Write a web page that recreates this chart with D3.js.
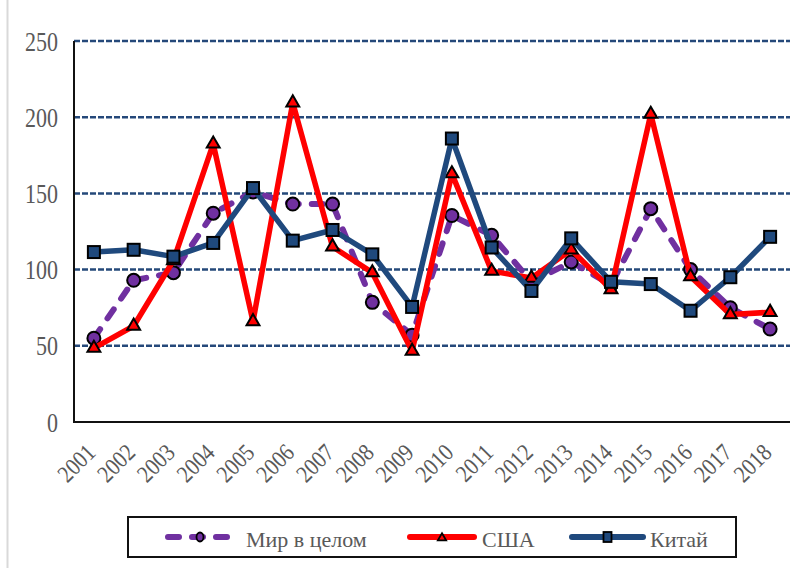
<!DOCTYPE html>
<html>
<head>
<meta charset="utf-8">
<script src="https://cdn.jsdelivr.net/npm/d3@7"></script>
<style>
  html,body{margin:0;padding:0;background:#fff;}
  svg{display:block;}
</style>
</head>
<body>
<div id="chart"></div>
<script>
const years = ["2001","2002","2003","2004","2005","2006","2007","2008","2009",
  "2010","2011","2012","2013","2014","2015","2016","2017","2018"];
const world = [55,93,98,137,151,143,143,78.5,57,135.5,122.5,92,105,90,140,100,75,61];
const usa   = [48.5,63,106,182.5,66,209.5,115,98,46.5,163,99,94.5,113,87,202,95.5,70.5,72];
const china = [111.5,113,108.5,117.5,153.5,119,126,110,75.5,186,114.5,86,120.5,92,90.5,73,95,121.5];
const yTicks = [0,50,100,150,200,250];
const seriesNames = ["Мир в целом","США","Китай"];

const FONT = "'Liberation Serif','DejaVu Serif','Times New Roman',serif";
const W = 810, H = 568;
const svg = d3.select("#chart").append("svg")
  .attr("width",W).attr("height",H);

svg.append("rect").attr("width",W).attr("height",H).attr("fill","#fff");
// chart area border, only left side visible
svg.append("line").attr("x1",7.5).attr("x2",7.5).attr("y1",0).attr("y2",H)
  .attr("stroke","#d9d9d9").attr("stroke-width",2);

const x = d3.scaleBand().domain(years).range([74,790]);
const y = d3.scaleLinear().domain([0,250]).range([422,41]);
const cx = d => x(d) + x.bandwidth()/2;

// gridlines
svg.append("g").selectAll("line")
  .data(yTicks.filter(t=>t>0))
  .enter().append("line")
  .attr("x1",74).attr("x2",790)
  .attr("y1",d=>y(d)).attr("y2",d=>y(d))
  .attr("stroke","#25497a").attr("stroke-width",2.5)
  .attr("stroke-dasharray","6,2");

// axes
svg.append("line").attr("x1",74).attr("x2",74).attr("y1",41).attr("y2",423)
  .attr("stroke","#111").attr("stroke-width",2);
svg.append("line").attr("x1",73).attr("x2",790).attr("y1",422).attr("y2",422)
  .attr("stroke","#111").attr("stroke-width",2);

svg.append("g").selectAll("text")
  .data(yTicks)
  .enter().append("text")
  .attr("font-family",FONT).attr("fill","#595959")
  .attr("text-anchor","end")
  .attr("dy","0.36em")
  .attr("font-size",22)
  .attr("transform",d=>"translate(58,"+y(d)+") scale(1,1.2)")
  .text(d=>d);

svg.append("g").selectAll("text")
  .data(years)
  .enter().append("text")
  .attr("font-family",FONT).attr("fill","#595959")
  .attr("text-anchor","end")
  .attr("font-size",21)
  .attr("transform",d=>"translate("+(cx(d)+3)+",454) rotate(-45) scale(1,1.15)")
  .text(d=>d);

const line = d3.line().x((d,i)=>cx(years[i])).y(d=>y(d));

// Мир в целом
svg.append("path").datum(world)
  .attr("d",line).attr("fill","none")
  .attr("stroke","#7030a0").attr("stroke-width",6)
  .attr("stroke-linecap","round").attr("stroke-linejoin","round")
  .attr("stroke-dasharray","11,13");
svg.append("g").selectAll("circle")
  .data(world).enter().append("circle")
  .attr("cx",(d,i)=>cx(years[i])).attr("cy",d=>y(d))
  .attr("r",6.5).attr("fill","#7030a0")
  .attr("stroke","#000").attr("stroke-width",2);

// США
svg.append("path").datum(usa)
  .attr("d",line).attr("fill","none")
  .attr("stroke","#ff0000").attr("stroke-width",5.5)
  .attr("stroke-linejoin","round");
const tri = d3.symbol(d3.symbolTriangle,72);
svg.append("g").selectAll("path")
  .data(usa).enter().append("path")
  .attr("d",tri)
  .attr("transform",(d,i)=>"translate("+cx(years[i])+","+y(d)+")")
  .attr("fill","#ff0000").attr("stroke","#000").attr("stroke-width",2);

// Китай
svg.append("path").datum(china)
  .attr("d",line).attr("fill","none")
  .attr("stroke","#1f497d").attr("stroke-width",5.5)
  .attr("stroke-linejoin","round");
svg.append("g").selectAll("rect")
  .data(china).enter().append("rect")
  .attr("x",(d,i)=>cx(years[i])-6).attr("y",d=>y(d)-6)
  .attr("width",12).attr("height",12)
  .attr("fill","#1f497d").attr("stroke","#000").attr("stroke-width",2);

// legend
const lg = svg.append("g");
lg.append("rect").attr("x",128).attr("y",517).attr("width",608).attr("height",40)
  .attr("fill","#fff").attr("stroke","#111").attr("stroke-width",2);
const ly = 537;
const items = [
  {x1:168,x2:232,tx:246,color:"#7030a0",mark:"circle",dash:"11,13"},
  {x1:410,x2:474,tx:482,color:"#ff0000",mark:"tri",dash:null},
  {x1:572,x2:643,tx:650,color:"#1f497d",mark:"square",dash:null}
];
items.forEach((it,k)=>{
  lg.append("line").attr("x1",it.x1).attr("x2",it.x2).attr("y1",ly).attr("y2",ly)
    .attr("stroke",it.color).attr("stroke-width",6)
    .attr("stroke-linecap","round")
    .attr("stroke-dasharray",it.dash);
  const mx = (it.x1+it.x2)/2;
  if(it.mark==="circle"){
    lg.append("ellipse").attr("cx",mx).attr("cy",ly).attr("rx",3.5).attr("ry",4.5)
      .attr("fill",it.color).attr("stroke","#000").attr("stroke-width",1.8);
  } else if(it.mark==="tri"){
    lg.append("path").attr("d",d3.symbol(d3.symbolTriangle,30))
      .attr("transform","translate("+mx+","+(ly+1)+")")
      .attr("fill",it.color).attr("stroke","#000").attr("stroke-width",1.8);
  } else {
    lg.append("rect").attr("x",mx-4).attr("y",ly-5).attr("width",8).attr("height",10)
      .attr("fill",it.color).attr("stroke","#000").attr("stroke-width",1.8);
  }
  lg.append("text")
    .attr("font-family",FONT).attr("fill","#595959")
    .attr("x",it.tx).attr("y",ly+10)
    .attr("font-size",22)
    .text(seriesNames[k]);
});
</script>
</body>
</html>
